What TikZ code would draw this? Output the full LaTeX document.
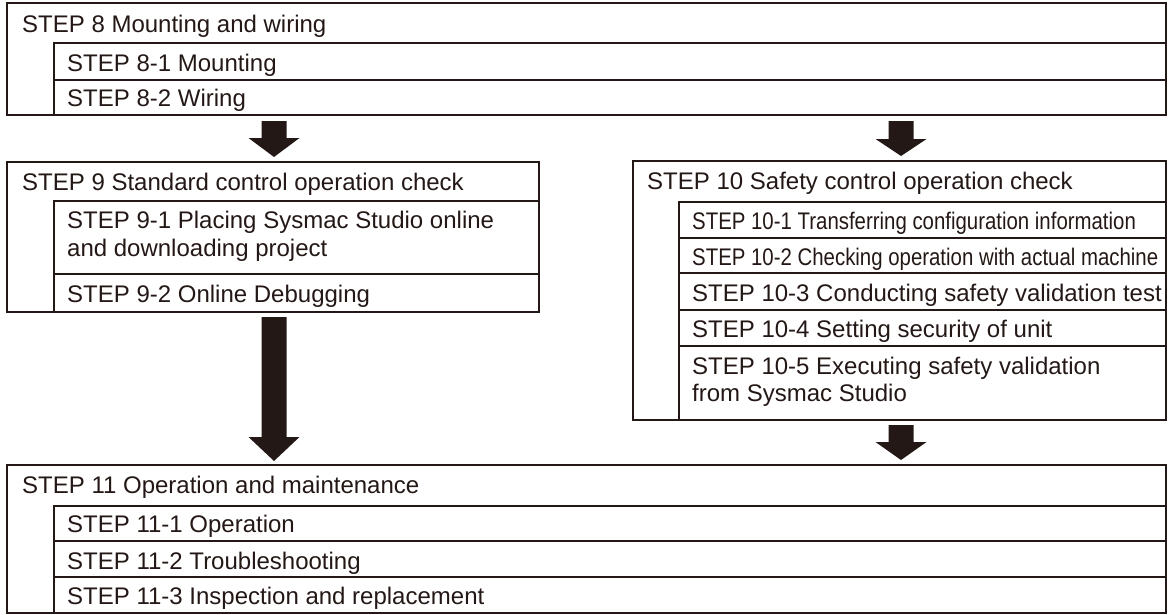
\documentclass[tikz,border=0pt]{standalone}
\usepackage{fontspec}
\setmainfont{Liberation Sans}
\definecolor{ink}{HTML}{231815}
\usetikzlibrary{calc}
\newcommand\DownArrow[5]{% name, cx, ytop, yhead, ytip
  \coordinate (#1-top) at (#2,#3);
  \coordinate (#1-tip) at (#2,#5);
  \fill[ink] ($(#1-top)+(-12.5,0)$) -- ($(#1-top)+(12.5,0)$) -- (#2+12.5,#4) -- (#2+25.5,#4)
    -- (#1-tip) -- (#2-25.5,#4) -- (#2-12.5,#4) -- cycle;}
\begin{document}
\begin{tikzpicture}[x=1pt,y=-1pt,
  box/.style={draw=ink, line width=1.5pt},
  lbl/.style={anchor=base west, inner sep=0pt, text=ink, font=\fontsize{24}{28}\selectfont}]
\useasboundingbox (0,0) rectangle (1172,614);

% STEP 8
\draw[box] (7,3) rectangle (1166,115);
\draw[box] (54,43) rectangle (1166,115);
\draw[box] (54,80) -- (1166,80);
\node[lbl] (t8) at (22,32) {STEP 8 Mounting and wiring};
\node[lbl] (t81) at (67,71) {STEP 8-1 Mounting};
\node[lbl] (t82) at (67,106) {STEP 8-2 Wiring};

% STEP 9
\draw[box] (7,162) rectangle (539,312);
\draw[box] (54,201) rectangle (539,312);
\draw[box] (54,274) -- (539,274);
\node[lbl] (t9) at (22,190) {STEP 9 Standard control operation check};
\node[lbl] (t91a) at (67,228) {STEP 9-1 Placing Sysmac Studio online};
\node[lbl] (t91b) at (67,256) {and downloading project};
\node[lbl] (t92) at (67,302) {STEP 9-2 Online Debugging};

% STEP 10
\draw[box] (633,161) rectangle (1166,420);
\draw[box] (679,202) rectangle (1166,420);
\foreach \yy in {238,273,310,346} \draw[box] (679,\yy) -- (1166,\yy);
\node[lbl] (t10) at (647,189) {STEP 10 Safety control operation check};
\node[lbl] (t101) at (692,229) {\scalebox{0.85}[1]{STEP 10-1 Transferring configuration information}};
\node[lbl] (t102) at (692,265) {\scalebox{0.85}[1]{STEP 10-2 Checking operation with actual machine}};
\node[lbl] (t103) at (692,301) {STEP 10-3 Conducting safety validation test};
\node[lbl] (t104) at (692,337) {STEP 10-4 Setting security of unit};
\node[lbl] (t105a) at (692,374) {STEP 10-5 Executing safety validation};
\node[lbl] (t105b) at (692,401) {from Sysmac Studio};

% STEP 11
\draw[box] (7,465) rectangle (1166,613);
\draw[box] (54,506) rectangle (1166,613);
\draw[box] (54,541) -- (1166,541);
\draw[box] (54,577) -- (1166,577);
\node[lbl] (t11) at (22,493) {STEP 11 Operation and maintenance};
\node[lbl] (t111) at (67,532) {STEP 11-1 Operation};
\node[lbl] (t112) at (67,569) {STEP 11-2 Troubleshooting};
\node[lbl] (t113) at (67,604) {STEP 11-3 Inspection and replacement};

% arrows
\DownArrow{a1}{274}{121}{138}{157}
\DownArrow{a2}{274}{317}{437}{461}
\DownArrow{a3}{901}{121}{139}{156}
\DownArrow{a4}{901}{425}{442}{460}
\end{tikzpicture}
\end{document}
